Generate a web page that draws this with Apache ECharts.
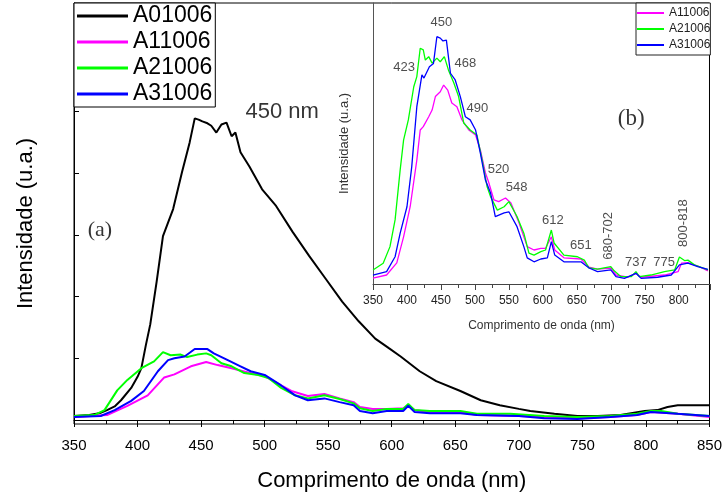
<!DOCTYPE html>
<html><head><meta charset="utf-8">
<script src="https://cdn.jsdelivr.net/npm/echarts@6/dist/echarts.min.js"></script>
<style>html,body{margin:0;padding:0;background:#fff}#c{width:725px;height:497px}</style>
</head><body><div id="c"></div>
<script>
const seriesNames = ['A01006', 'A11006', 'A21006', 'A31006'];
const seriesColors = ['#000000', '#ff00ff', '#00ff00', '#0000ff'];

// ---- main panel (a): wavelength (nm) / intensity (a.u.)
const a01Nm = [350,362,370,376,382,387,395,400,403,406.5,410,415,420,428,435,441,445,448,451,455,458,462,466,470,474,477,481,488,498,509,522,535,548,561,574,587,598,607,622,635,654,670,685,700,709,728,746,762,780,799,809,817,825,850];
const a01I  = [0.065,0.08,0.11,0.16,0.22,0.32,0.52,0.70,0.84,1.21,1.55,2.24,2.98,3.42,4.02,4.50,4.89,4.87,4.84,4.81,4.77,4.66,4.79,4.82,4.60,4.66,4.34,4.11,3.74,3.47,3.05,2.66,2.29,1.92,1.60,1.32,1.16,1.03,0.79,0.63,0.47,0.32,0.24,0.18,0.145,0.10,0.065,0.065,0.08,0.145,0.16,0.21,0.24,0.24];

const a11Nm = [350,376,392,408,421,429,442,454,463,474,487,500,513,521,534,547,559,570,575,585,596,609,613,618,630,654,667,700,746,772,793,804,825,850];
const a11I  = [0.05,0.08,0.23,0.40,0.69,0.74,0.87,0.94,0.89,0.84,0.77,0.71,0.56,0.47,0.39,0.42,0.35,0.29,0.21,0.18,0.18,0.19,0.24,0.16,0.13,0.13,0.08,0.065,0.03,0.05,0.08,0.13,0.10,0.05];

const a21Nm = [350,366,374,384,392,403,413,420,426,434,439,447,454,458,466,474,484,495,503,513,524,534,547,559,570,575,585,596,609,613,618,630,654,667,693,720,746,772,793,804,812,825,850];
const a21I  = [0.065,0.08,0.16,0.48,0.65,0.84,0.95,1.10,1.05,1.06,1.02,1.06,1.08,1.05,0.92,0.87,0.76,0.73,0.68,0.52,0.40,0.35,0.40,0.34,0.27,0.19,0.145,0.18,0.18,0.26,0.16,0.145,0.145,0.10,0.10,0.065,0.05,0.065,0.10,0.145,0.145,0.10,0.065];

const a31Nm = [350,371,382,395,405,416,424,429,437,445,455,460,471,481,489,500,513,524,534,547,559,570,575,585,596,609,613,618,630,654,667,700,720,746,772,793,804,825,850];
const a31I  = [0.05,0.065,0.16,0.31,0.47,0.79,0.97,1.00,1.03,1.15,1.15,1.08,0.97,0.87,0.79,0.73,0.56,0.40,0.32,0.35,0.29,0.24,0.145,0.11,0.145,0.145,0.23,0.13,0.11,0.11,0.08,0.065,0.03,0.016,0.05,0.08,0.13,0.10,0.065];

// ---- inset (b)
const b11Nm = [350,370,385,395,404.7,414.5,419.5,424,432,437,441.8,449,454,460,466,473.5,481,491,501,508,515.5,520,528,535,545,553,565,577,587,597,604,612.5,617.5,631,656,668,680.5,700,707.6,725,737,744.6,779,799,804,813.5,828,843];
const b11I  = [2.1,3.2,7.5,16.8,27.5,44.1,54.8,56.0,59.5,61.9,66.7,68.4,70.8,69.0,64.4,63.1,58.4,54.8,53.0,47.7,39.5,36.4,29.9,29.3,30.6,28.8,21.7,13.3,12.1,12.7,12.7,16.8,12.1,9.3,8.9,6.0,5.3,5.7,3.2,2.4,3.8,2.4,3.2,4.4,7.4,7.6,6.4,4.7];

const b21Nm = [350,365,375,382.5,390,395,402,410,414.5,419.5,424,427,432,437,444,449,455,461,469,476,483.5,493,503,510.7,518,523,533,543,550,562,572,579.5,587,597,604,612.5,616.5,631,651,661,668,680.5,700,705,715,730,737,742,759,779,794,801,809,813.5,823,843];
const b21I  = [5.0,7.4,13.3,22.8,40.6,51.2,58.4,70.2,73.8,83.9,83.3,79.7,80.9,78.6,80.4,79.1,80.9,76.2,71.5,66.7,57.3,54.8,53.0,44.1,34.6,31.1,26.3,27.5,29.3,24.0,18.1,11.0,10.3,11.5,12.1,19.2,14.6,10.3,9.7,8.5,5.7,5.3,6.2,4.7,2.6,2.6,4.4,2.6,3.2,4.4,5.0,9.6,8.3,8.5,6.8,5.0];

const b31Nm = [350,370,382.5,390,400,407,414.5,422,425,433,439,444,449,453,458,464,471,478.5,486,493,501,508,515.5,523,530,543,550,562,572,577,587,597,606.6,612.5,617.5,631,656,668,680.5,700,707.6,720,737,744.6,769,789,801,813.5,828,843];
const b31I  = [3.2,4.4,9.7,18.1,27.5,41.7,63.1,74.4,73.3,77.3,78.5,88.0,87.5,86.5,86.8,75.0,72.6,66.7,59.5,58.4,54.8,46.6,37.0,32.4,24.0,25.3,25.7,20.4,13.3,9.3,7.9,8.9,9.3,15.1,10.3,7.9,7.9,5.7,4.4,5.0,2.6,2.0,3.8,2.0,2.4,3.2,6.8,7.4,6.2,5.2];

// peak annotations of the inset
const insetPeakText = ['450','423','468','490','520','548','612','651','680-702','737','775','800-818'];
const insetPeakNm   = [450.5,395.8,486,503.7,534.7,561.3,614.6,656,696,737,778.6,806.7];
const insetPeakI    = [93.2,76.9,78.6,62.6,40.6,34.2,22.8,13.9,17.1,7.8,7.8,21.7];
const insetPeakRot  = [0,0,0,0,0,0,0,0,90,0,0,90];

const mainNotes = ['450 nm', '(a)'];
const mainNotesNm = [513.8, 370.4];
const mainNotesI = [5.0, 3.08];
const insetNote = '(b)';
const insetNoteNm = 730, insetNoteI = 58.7;

const SANS = 'Liberation Sans, Arial, sans-serif';
const SERIF = 'Liberation Serif, Times New Roman, serif';

function pairs(xs, ys) { return xs.map((x, i) => [x, ys[i]]); }

const mainData = [pairs(a01Nm, a01I), pairs(a11Nm, a11I), pairs(a21Nm, a21I), pairs(a31Nm, a31I)];
const insetData = [pairs(b11Nm, b11I), pairs(b21Nm, b21I), pairs(b31Nm, b31I)];

const series = [];
mainData.forEach((d, i) => series.push({
  type: 'line', name: seriesNames[i], xAxisIndex: 0, yAxisIndex: 0, data: d,
  symbol: 'none', lineStyle: { width: 2, color: seriesColors[i] }, itemStyle: { color: seriesColors[i] },
  z: 3 + (i === 0 ? 0 : i)
}));
insetData.forEach((d, i) => series.push({
  type: 'line', name: seriesNames[i + 1], xAxisIndex: 1, yAxisIndex: 1, data: d,
  symbol: 'none', lineStyle: { width: 1.3, color: seriesColors[i + 1] }, itemStyle: { color: seriesColors[i + 1] },
  z: 5
}));
series.push({
  type: 'scatter', xAxisIndex: 1, yAxisIndex: 1, symbolSize: 1, silent: true,
  itemStyle: { color: 'rgba(0,0,0,0)' },
  data: insetPeakText.map((t, i) => ({
    name: t, value: [insetPeakNm[i], insetPeakI[i]],
    label: { rotate: insetPeakRot[i] }
  })),
  label: { show: true, position: 'inside', formatter: p => p.name, fontSize: 13, color: '#222', fontFamily: SANS },
  z: 6
});
series.push({
  type: 'scatter', xAxisIndex: 1, yAxisIndex: 1, symbolSize: 1, silent: true,
  itemStyle: { color: 'rgba(0,0,0,0)' },
  data: [{ name: insetNote, value: [insetNoteNm, insetNoteI] }],
  label: { show: true, position: 'inside', formatter: p => p.name, fontSize: 23, color: '#000', fontFamily: SERIF },
  z: 6
});
series.push({
  type: 'scatter', xAxisIndex: 0, yAxisIndex: 0, symbolSize: 1, silent: true,
  itemStyle: { color: 'rgba(0,0,0,0)' },
  data: mainNotes.map((t, i) => ({
    name: t, value: [mainNotesNm[i], mainNotesI[i]],
    label: { fontFamily: i === 0 ? SANS : SERIF }
  })),
  label: { show: true, position: 'inside', formatter: p => p.name, fontSize: 22, color: '#000' },
  z: 6
});

const chart = echarts.init(document.getElementById('c'), null, { renderer: 'canvas' });
chart.setOption({
  animation: false,
  backgroundColor: '#fff',
  textStyle: { fontFamily: SANS },
  grid: [
    { left: 74, right: 14, top: 3, bottom: 71, show: true, borderColor: '#000', borderWidth: 1, backgroundColor: 'transparent' },
    { left: 373, right: 15, top: 3, bottom: 213, show: false }
  ],
  legend: [
    {
      data: seriesNames, orient: 'vertical', left: 74, top: 3, icon: 'rect', itemWidth: 51, itemHeight: 3,
      itemGap: 0, padding: [0, 3, 0, 3], borderColor: '#000', borderWidth: 1, backgroundColor: '#fff',
      textStyle: { fontSize: 23, lineHeight: 26, color: '#000', fontFamily: SANS }, selectedMode: false
    },
    {
      data: seriesNames.slice(1), orient: 'vertical', left: 636, top: 3, icon: 'rect', itemWidth: 27, itemHeight: 2,
      itemGap: 0, padding: [2, 0, 2, 1], borderColor: '#222', borderWidth: 1, backgroundColor: '#fff',
      textStyle: { fontSize: 12, lineHeight: 16, color: '#222', fontFamily: SANS }, selectedMode: false
    }
  ],
  xAxis: [
    {
      type: 'value', gridIndex: 0, min: 350, max: 850, interval: 50,
      axisLine: { show: true, lineStyle: { color: '#000', width: 1 } },
      axisTick: { show: true, length: 7, lineStyle: { color: '#000' } },
      minorTick: { show: true, splitNumber: 2, length: 4, lineStyle: { color: '#000' } },
      axisLabel: { fontSize: 15, color: '#000', margin: 14, fontFamily: SANS },
      splitLine: { show: false },
      name: 'Comprimento de onda (nm)', nameLocation: 'middle', nameGap: 46,
      nameTextStyle: { fontSize: 22, color: '#000', fontFamily: SANS }
    },
    {
      type: 'value', gridIndex: 1, min: 350, max: 846, interval: 50,
      axisLine: { show: true, lineStyle: { color: '#444', width: 1 } },
      axisTick: { show: true, length: 6, lineStyle: { color: '#444' } },
      minorTick: { show: true, splitNumber: 2, length: 4, lineStyle: { color: '#444' } },
      axisLabel: { fontSize: 12, color: '#222', margin: 11, showMaxLabel: false, fontFamily: SANS },
      splitLine: { show: false },
      name: 'Comprimento de onda (nm)', nameLocation: 'middle', nameGap: 36,
      nameTextStyle: { fontSize: 12, color: '#333', fontFamily: SANS }
    }
  ],
  yAxis: [
    {
      type: 'value', gridIndex: 0, min: -0.065, max: 6.76,
      axisLine: { show: true, lineStyle: { color: '#000', width: 1 } },
      axisTick: { show: true, inside: true, length: 5, customValues: [1, 2, 3, 4, 5, 6], lineStyle: { color: '#000' } },
      axisLabel: { show: false },
      splitLine: { show: false },
      name: 'Intensidade (u.a.)', nameLocation: 'middle', nameGap: 37,
      nameTextStyle: { fontSize: 22, color: '#000', fontFamily: SANS, padding: [0, 20, 0, 0] }
    },
    {
      type: 'value', gridIndex: 1, min: 0, max: 100,
      axisLine: { show: true, lineStyle: { color: '#555', width: 1 } },
      axisTick: { show: false }, axisLabel: { show: false }, splitLine: { show: false },
      name: 'Intensidade (u.a.)', nameLocation: 'middle', nameGap: 22,
      nameTextStyle: { fontSize: 13, color: '#333', fontFamily: SANS }
    }
  ],
  series: series
});
</script></body></html>
